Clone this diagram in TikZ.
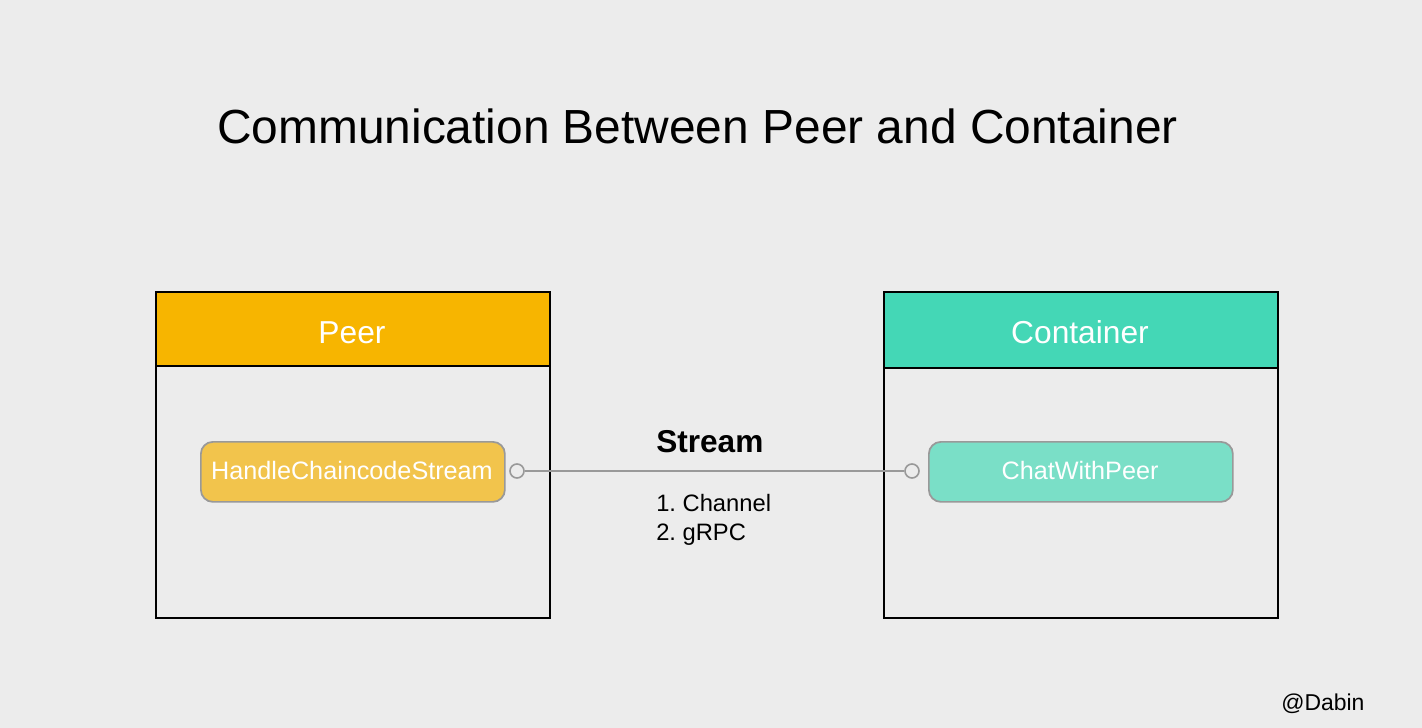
\documentclass[tikz,border=0pt]{standalone}
\usepackage{fontspec}
\setmainfont{Liberation Sans}
\frenchspacing
\definecolor{bg}{HTML}{ECECEC}
\definecolor{peerhead}{HTML}{F7B500}
\definecolor{conthead}{HTML}{44D7B6}
\definecolor{peerfn}{HTML}{F2C44C}
\definecolor{contfn}{HTML}{7ADFC7}
\definecolor{edge}{HTML}{999999}
\begin{document}
\begin{tikzpicture}[x=0.75pt,y=-0.75pt,
  frame/.style={draw=black,line width=1.5pt,fill=bg,anchor=north west,inner sep=0pt},
  header/.style={draw=black,line width=1.5pt,anchor=north west,inner sep=0pt,text=white,font=\fontsize{23.8pt}{28pt}\selectfont},
  fnbox/.style={draw=edge,line width=1.3pt,rounded corners=9pt,anchor=north west,inner sep=0pt,minimum width=304*0.75pt,minimum height=60*0.75pt,text=white,font=\fontsize{18.9pt}{22pt}\selectfont},
  port/.style={circle,draw=edge,line width=1.2pt,fill=bg,minimum size=14*0.75pt,inner sep=0pt},
  link/.style={draw=edge,line width=1.2pt}]
\fill[bg] (0,0) rectangle (1422,728);
\useasboundingbox (0,0) rectangle (1422,728);
\node[anchor=base,font=\fontsize{35.9pt}{40pt}\selectfont] (title) at (697.5,143) {Communication Between Peer and Container};
% Peer
\node[frame,minimum width=394*0.75pt,minimum height=326*0.75pt] (peerbox) at (154.5,290.5) {};
\node[header,fill=peerhead,minimum width=394*0.75pt,minimum height=74*0.75pt] (peerhead) at (154.5,290.5) {};
\node[anchor=base,text=white,font=\fontsize{23.8pt}{28pt}\selectfont] (peerlabel) at (352,343) {Peer};
% Container
\node[frame,minimum width=394*0.75pt,minimum height=326*0.75pt] (contbox) at (882.5,290.5) {};
\node[header,fill=conthead,minimum width=394*0.75pt,minimum height=76*0.75pt] (conthead) at (882.5,290.5) {};
\node[anchor=base,text=white,font=\fontsize{23.8pt}{28pt}\selectfont] (contlabel) at (1080,343) {Container};
% function boxes
\node[fnbox,fill=peerfn] (hcs) at (200,441) {};
\node[anchor=base,text=white,font=\fontsize{18.9pt}{22pt}\selectfont] (hcslabel) at (352,479) {HandleChaincodeStream};
\node[fnbox,fill=contfn] (cwp) at (928,441) {};
\node[anchor=base,text=white,font=\fontsize{18.9pt}{22pt}\selectfont] (cwplabel) at (1080,479) {ChatWithPeer};
% ports and link
\node[port] (p1) at (517,471) {};
\node[port] (p2) at (912,471) {};
\draw[link] (p1.east) -- (p2.west);
% labels
\node[anchor=base west,inner sep=0pt,font=\fontsize{23.7pt}{28pt}\selectfont\bfseries] (stream) at (656,452) {Stream};
\node[anchor=base west,inner sep=0pt,font=\fontsize{17.8pt}{21pt}\selectfont] (l1) at (656,511) {1. Channel};
\node[anchor=base west,inner sep=0pt,font=\fontsize{17.8pt}{21pt}\selectfont] (l2) at (656,540) {2. gRPC};
\node[anchor=base west,inner sep=0pt,font=\fontsize{17.2pt}{21pt}\selectfont] (author) at (1281,710) {@Dabin};
\end{tikzpicture}
\end{document}
